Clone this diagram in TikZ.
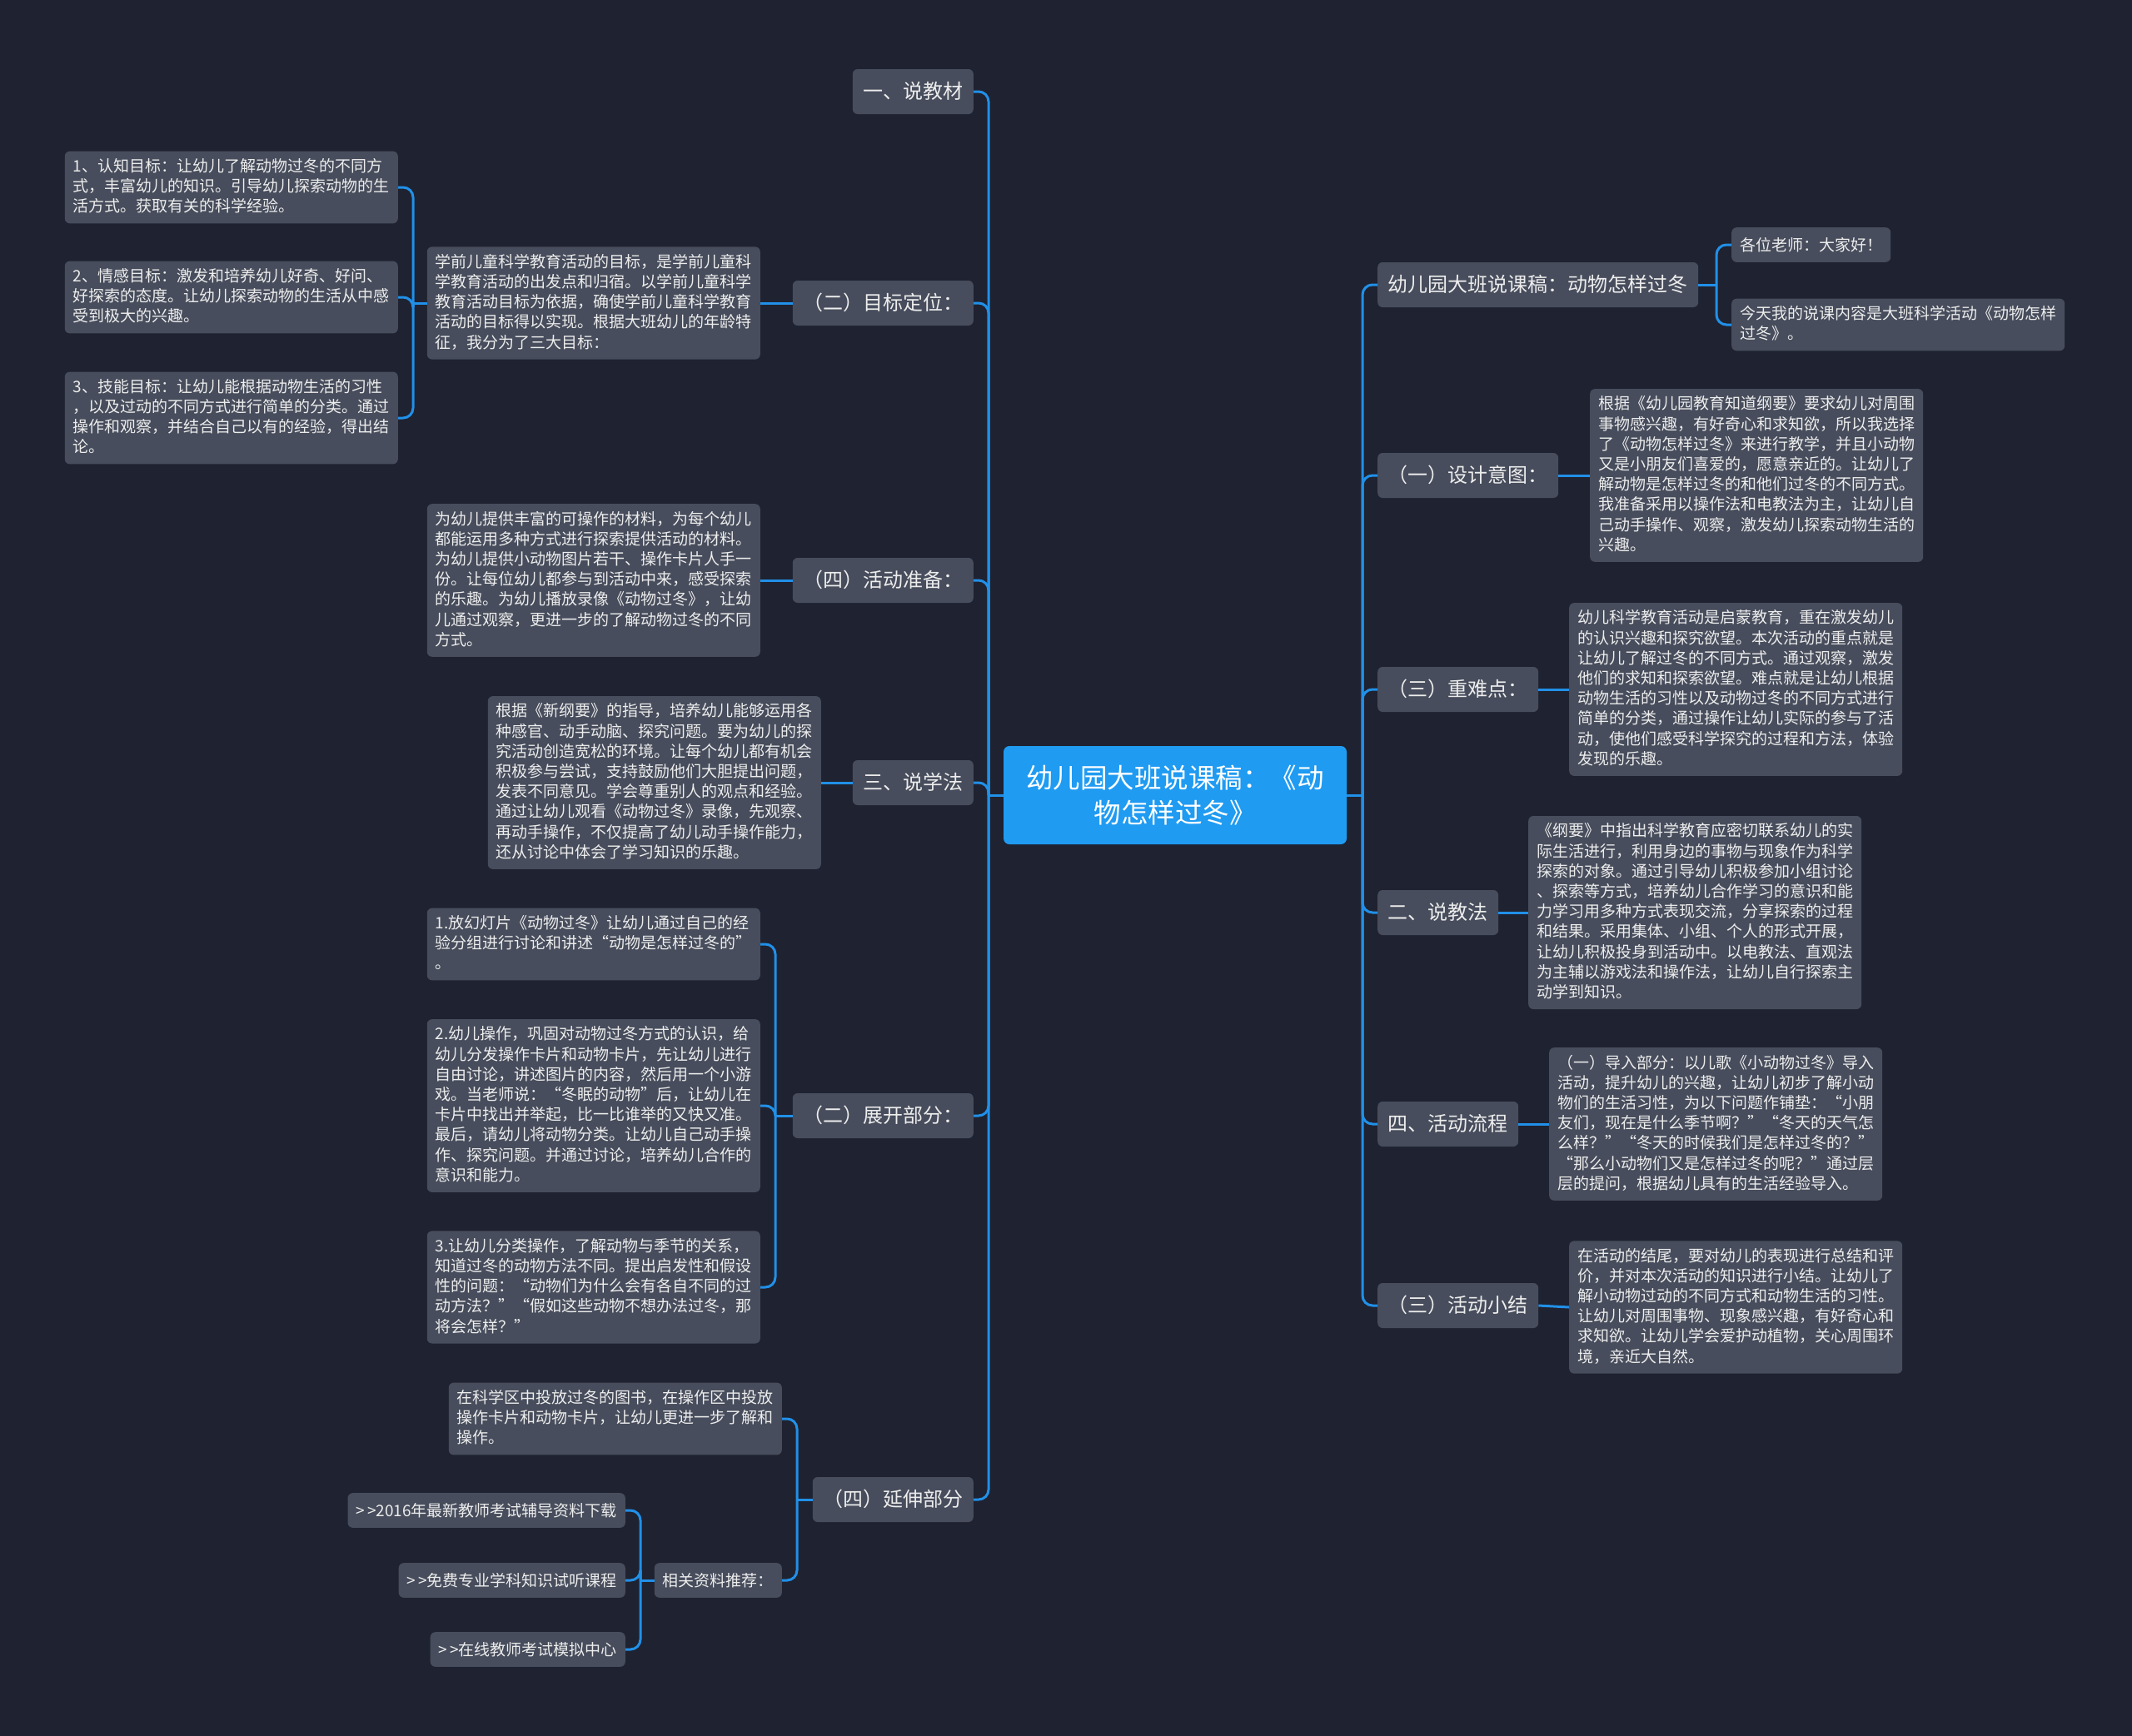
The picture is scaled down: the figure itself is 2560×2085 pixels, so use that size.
\documentclass[tikz,border=0pt]{standalone}
\usepackage{fontspec}
\setmainfont{Noto Sans CJK SC}
\definecolor{bgc}{HTML}{1F2230}
\definecolor{nodegray}{HTML}{474D5C}
\definecolor{textc}{HTML}{EDEDED}
\definecolor{lineblue}{HTML}{2190E8}
\definecolor{rootblue}{HTML}{1F9BF2}
\newcommand\mystrut{\rule[-0.2\baselineskip]{0pt}{\baselineskip}}
\newcommand\gtgt{>\kern3pt>}
\tikzset{
  conn/.style={draw=lineblue, line width=3pt, rounded corners=12pt},
  lvone/.style={fill=nodegray, text=textc, rounded corners=6pt, font=\fontsize{24}{29}\selectfont, inner xsep=12.5pt, inner ysep=12.5pt, execute at begin node=\mystrut},
  txtbox/.style={fill=nodegray, text=textc, rounded corners=6pt, font=\fontsize{19}{24.2}\selectfont, align=left, inner xsep=10pt, inner ysep=8.7pt, execute at begin node=\mystrut, execute at end node=\mystrut},
  rootnode/.style={fill=rootblue, text=white, rounded corners=7pt, font=\fontsize{32.5}{42.5}\selectfont, align=center, minimum width=412pt, minimum height=118pt, inner sep=0pt},
}
\begin{document}
\begin{tikzpicture}[x=1pt, y=-1pt]
\fill[bgc] (0,0) rectangle (2560,2085);
\useasboundingbox (0,0) rectangle (2560,2085);

% root
\node[rootnode] (root) at (1411,955) {幼儿园大班说课稿：《动\\物怎样过冬》};

% trunks
\coordinate (LT) at (1187,955);
\coordinate (RT) at (1636,955);

% left level 1
\node[lvone, anchor=east] (L1) at (1169,110) {一、说教材};
\node[lvone, anchor=east] (L2) at (1169,364) {（二）目标定位：};
\node[lvone, anchor=east] (L3) at (1169,697) {（四）活动准备：};
\node[lvone, anchor=east] (L4) at (1169,940) {三、说学法};
\node[lvone, anchor=east] (L5) at (1169,1340) {（二）展开部分：};
\node[lvone, anchor=east] (L6) at (1169,1801) {（四）延伸部分};

% right level 1
\node[lvone, anchor=west] (R1) at (1654,342) {幼儿园大班说课稿：动物怎样过冬};
\node[lvone, anchor=west] (R2) at (1654,571) {（一）设计意图：};
\node[lvone, anchor=west] (R3) at (1654,828) {（三）重难点：};
\node[lvone, anchor=west] (R4) at (1654,1096) {二、说教法};
\node[lvone, anchor=west] (R5) at (1654,1350) {四、活动流程};
\node[lvone, anchor=west] (R6) at (1654,1568) {（三）活动小结};

% left level 2
\node[txtbox, anchor=east] (L2t) at (913,364) {学前儿童科学教育活动的目标，是学前儿童科\\学教育活动的出发点和归宿。以学前儿童科学\\教育活动目标为依据，确使学前儿童科学教育\\活动的目标得以实现。根据大班幼儿的年龄特\\征，我分为了三大目标：};
\node[txtbox, anchor=east] (G1) at (478,225) {1、认知目标：让幼儿了解动物过冬的不同方\\式，丰富幼儿的知识。引导幼儿探索动物的生\\活方式。获取有关的科学经验。};
\node[txtbox, anchor=east] (G2) at (478,357) {2、情感目标：激发和培养幼儿好奇、好问、\\好探索的态度。让幼儿探索动物的生活从中感\\受到极大的兴趣。};
\node[txtbox, anchor=east] (G3) at (478,502) {3、技能目标：让幼儿能根据动物生活的习性\\，以及过动的不同方式进行简单的分类。通过\\操作和观察，并结合自己以有的经验，得出结\\论。};
\node[txtbox, anchor=east] (L3t) at (913,697) {为幼儿提供丰富的可操作的材料，为每个幼儿\\都能运用多种方式进行探索提供活动的材料。\\为幼儿提供小动物图片若干、操作卡片人手一\\份。让每位幼儿都参与到活动中来，感受探索\\的乐趣。为幼儿播放录像《动物过冬》，让幼\\儿通过观察，更进一步的了解动物过冬的不同\\方式。};
\node[txtbox, anchor=east] (L4t) at (986,940) {根据《新纲要》的指导，培养幼儿能够运用各\\种感官、动手动脑、探究问题。要为幼儿的探\\究活动创造宽松的环境。让每个幼儿都有机会\\积极参与尝试，支持鼓励他们大胆提出问题，\\发表不同意见。学会尊重别人的观点和经验。\\通过让幼儿观看《动物过冬》录像，先观察、\\再动手操作，不仅提高了幼儿动手操作能力，\\还从讨论中体会了学习知识的乐趣。};
\node[txtbox, anchor=east] (E1) at (913,1134) {1.放幻灯片《动物过冬》让幼儿通过自己的经\\验分组进行讨论和讲述“动物是怎样过冬的”\\。};
\node[txtbox, anchor=east] (E2) at (913,1328) {2.幼儿操作，巩固对动物过冬方式的认识，给\\幼儿分发操作卡片和动物卡片，先让幼儿进行\\自由讨论，讲述图片的内容，然后用一个小游\\戏。当老师说：“冬眠的动物”后，让幼儿在\\卡片中找出并举起，比一比谁举的又快又准。\\最后，请幼儿将动物分类。让幼儿自己动手操\\作、探究问题。并通过讨论，培养幼儿合作的\\意识和能力。};
\node[txtbox, anchor=east] (E3) at (913,1546) {3.让幼儿分类操作，了解动物与季节的关系，\\知道过冬的动物方法不同。提出启发性和假设\\性的问题：“动物们为什么会有各自不同的过\\动方法？”“假如这些动物不想办法过冬，那\\将会怎样？”};
\node[txtbox, anchor=east] (Y1) at (939,1704) {在科学区中投放过冬的图书，在操作区中投放\\操作卡片和动物卡片，让幼儿更进一步了解和\\操作。};
\node[txtbox, anchor=east] (Y2) at (939,1898) {相关资料推荐：};
\node[txtbox, anchor=east] (Z1) at (751,1814) {\gtgt 2016年最新教师考试辅导资料下载};
\node[txtbox, anchor=east] (Z2) at (751,1898) {\gtgt 免费专业学科知识试听课程};
\node[txtbox, anchor=east] (Z3) at (751,1981) {\gtgt 在线教师考试模拟中心};

% right level 2
\node[txtbox, anchor=west] (H1) at (2079,294) {各位老师：大家好！};
\node[txtbox, anchor=west] (H2) at (2079,390) {今天我的说课内容是大班科学活动《动物怎样\\过冬》。};
\node[txtbox, anchor=west] (R2t) at (1909,571) {根据《幼儿园教育知道纲要》要求幼儿对周围\\事物感兴趣，有好奇心和求知欲，所以我选择\\了《动物怎样过冬》来进行教学，并且小动物\\又是小朋友们喜爱的，愿意亲近的。让幼儿了\\解动物是怎样过冬的和他们过冬的不同方式。\\我准备采用以操作法和电教法为主，让幼儿自\\己动手操作、观察，激发幼儿探索动物生活的\\兴趣。};
\node[txtbox, anchor=west] (R3t) at (1884,828) {幼儿科学教育活动是启蒙教育，重在激发幼儿\\的认识兴趣和探究欲望。本次活动的重点就是\\让幼儿了解过冬的不同方式。通过观察，激发\\他们的求知和探索欲望。难点就是让幼儿根据\\动物生活的习性以及动物过冬的不同方式进行\\简单的分类，通过操作让幼儿实际的参与了活\\动，使他们感受科学探究的过程和方法，体验\\发现的乐趣。};
\node[txtbox, anchor=west] (R4t) at (1835,1096) {《纲要》中指出科学教育应密切联系幼儿的实\\际生活进行，利用身边的事物与现象作为科学\\探索的对象。通过引导幼儿积极参加小组讨论\\、探索等方式，培养幼儿合作学习的意识和能\\力学习用多种方式表现交流，分享探索的过程\\和结果。采用集体、小组、个人的形式开展，\\让幼儿积极投身到活动中。以电教法、直观法\\为主辅以游戏法和操作法，让幼儿自行探索主\\动学到知识。};
\node[txtbox, anchor=west] (R5t) at (1860,1350) {（一）导入部分：以儿歌《小动物过冬》导入\\活动，提升幼儿的兴趣，让幼儿初步了解小动\\物们的生活习性，为以下问题作铺垫：“小朋\\友们，现在是什么季节啊？”“冬天的天气怎\\么样？”“冬天的时候我们是怎样过冬的？”\\“那么小动物们又是怎样过冬的呢？”通过层\\层的提问，根据幼儿具有的生活经验导入。};
\node[txtbox, anchor=west] (R6t) at (1884,1570) {在活动的结尾，要对幼儿的表现进行总结和评\\价，并对本次活动的知识进行小结。让幼儿了\\解小动物过动的不同方式和动物生活的习性。\\让幼儿对周围事物、现象感兴趣，有好奇心和\\求知欲。让幼儿学会爱护动植物，关心周围环\\境，亲近大自然。};

% connectors: root to level 1
\draw[conn] (root.west) -- (LT);
\foreach \n in {L1,L2,L3,L4,L5,L6} \draw[conn] (LT) |- (\n.east);
\draw[conn] (root.east) -- (RT);
\foreach \n in {R1,R2,R3,R4,R5,R6} \draw[conn] (RT) |- (\n.west);

% left sub-connectors
\draw[conn] (L2.west) -- (L2t.east);
\coordinate (GT) at (496,364);
\draw[conn] (L2t.west) -- (GT);
\foreach \n in {G1,G2,G3} \draw[conn] (GT) |- (\n.east);
\draw[conn] (L3.west) -- (L3t.east);
\draw[conn] (L4.west) -- (L4t.east);
\coordinate (ET) at (931,1340);
\draw[conn] (L5.west) -- (ET);
\foreach \n in {E1,E2,E3} \draw[conn] (ET) |- (\n.east);
\coordinate (YT) at (957,1801);
\draw[conn] (L6.west) -- (YT);
\foreach \n in {Y1,Y2} \draw[conn] (YT) |- (\n.east);
\coordinate (ZT) at (769,1898);
\draw[conn] (Y2.west) -- (ZT);
\foreach \n in {Z1,Z2,Z3} \draw[conn] (ZT) |- (\n.east);

% right sub-connectors
\coordinate (HT) at (2061,342);
\draw[conn] (R1.east) -- (HT);
\foreach \n in {H1,H2} \draw[conn] (HT) |- (\n.west);
\draw[conn] (R2.east) -- (R2t.west);
\draw[conn] (R3.east) -- (R3t.west);
\draw[conn] (R4.east) -- (R4t.west);
\draw[conn] (R5.east) -- (R5t.west);
\draw[conn] (R6.east) -- (R6t.west);
\end{tikzpicture}
\end{document}
